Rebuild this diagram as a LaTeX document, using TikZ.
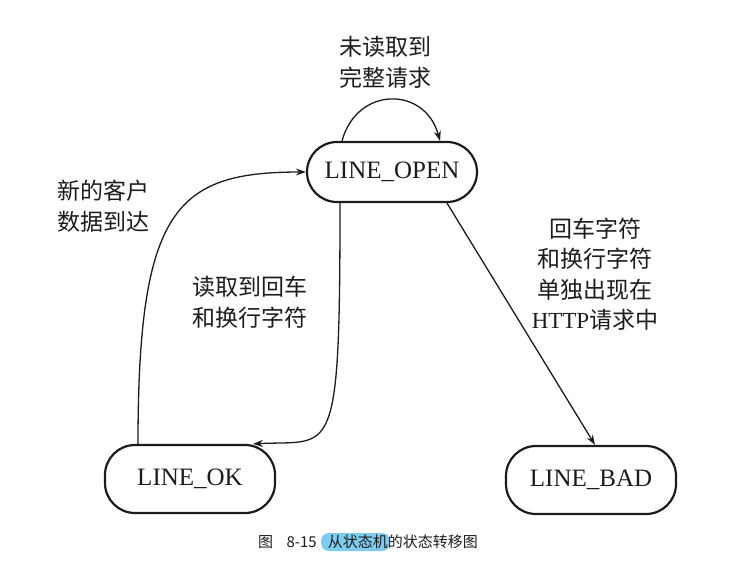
\documentclass[tikz,border=0pt]{standalone}
\usepackage{fontspec}
\setmainfont{Liberation Serif}
\newfontfamily\cjk{Noto Sans CJK SC}
\usetikzlibrary{positioning,arrows.meta}
\definecolor{ink}{HTML}{1C1C1C}
\definecolor{hilite}{HTML}{7CCCF0}
\tikzset{
  state/.style={draw=ink,line width=2.2pt,rectangle,rounded corners=30pt,minimum width=170pt,minimum height=64pt,inner sep=0pt,text=ink,font=\fontsize{25}{25}\selectfont},
  trans/.style={draw=ink,line width=1.3pt,-{Stealth[length=10pt,width=7pt]}},
  lbl/.style={align=center,text=ink,font=\cjk\fontsize{23}{31}\selectfont},
}

\begin{document}
\begin{tikzpicture}[x=1pt,y=-1pt]
\useasboundingbox (0,0) rectangle (731,566);
\node[state,minimum height=60pt] (open) at (392,172) {LINE\_OPEN};
\node[state,minimum height=68pt] (ok) at (190,479) {LINE\_OK};
\node[state,minimum height=68pt] (bad) at (591,480) {LINE\_BAD};

\draw[trans] ([xshift=-50pt]open.north) .. controls +(15,-55) and +(-15,-55) .. ([xshift=48pt]open.north);
\draw[trans] ([xshift=-52pt]ok.north) .. controls +(0,-235) and +(-130,0) .. (open.west);
\draw[trans] ([xshift=-52pt]open.south) .. controls +(0,262) and +(80,-4) .. ([xshift=63pt]ok.north);
\draw[trans] ([xshift=55pt]open.south) -- ([xshift=4pt]bad.north);

\node[lbl] (waitlbl) at (385,62) {未读取到\\完整请求};
\node[lbl] (newlbl) at (103,206) {新的客户\\数据到达};
\node[lbl] (crlflbl) at (250,302) {读取到回车\\和换行字符};
\node[lbl,font=\cjk\fontsize{23}{30.5}\selectfont] (badlbl) at (595,274) {回车字符\\和换行字符\\单独出现在\\{\rmfamily HTTP}请求中};

\fill[hilite,rounded corners=8pt] (321,533) rectangle (390,551);
\node[text=ink,font=\cjk\fontsize{15}{15}\selectfont] (caption) at (368,542) {图\hspace{0.9em}8-15\hspace{0.75em}从状态机的状态转移图};
\end{tikzpicture}
\end{document}
